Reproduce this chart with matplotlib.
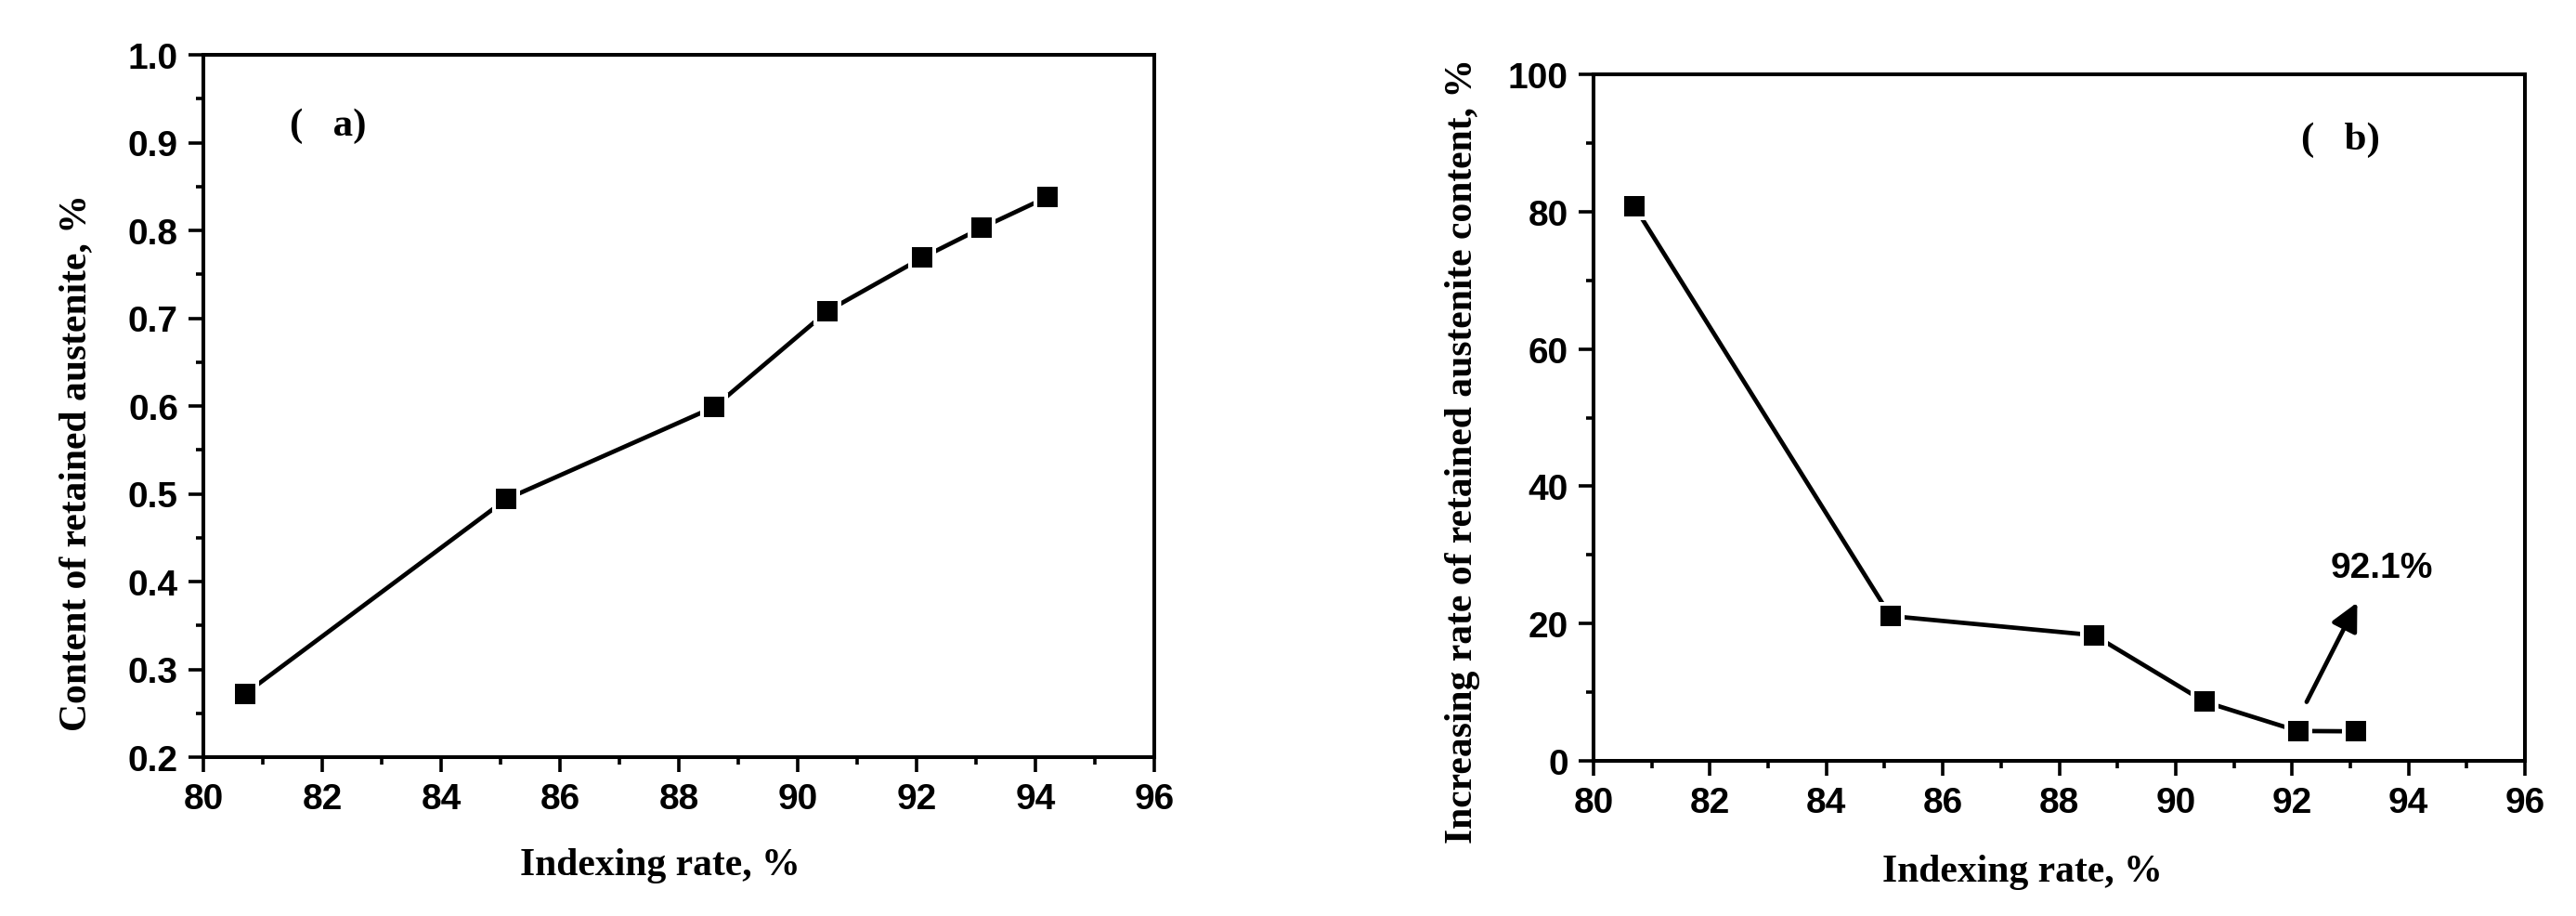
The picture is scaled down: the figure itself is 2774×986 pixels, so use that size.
import matplotlib
matplotlib.use("Agg")
import matplotlib.pyplot as plt
from matplotlib.ticker import MultipleLocator

# data
index_rate_a = [80.7, 85.1, 88.6, 90.5, 92.1, 93.1, 94.2]
content_a = [0.272, 0.494, 0.599, 0.708, 0.769, 0.803, 0.838]

index_rate_b = [80.7, 85.1, 88.6, 90.5, 92.1, 93.1]
increase_b = [80.8, 21.1, 18.3, 8.6, 4.35, 4.3]

xticks = [80, 82, 84, 86, 88, 90, 92, 94, 96]

serif = 'Liberation Serif'
sans = 'Liberation Sans'

fig = plt.figure(figsize=(27.74, 9.87), dpi=100)
ax1 = fig.add_axes([219/2774, 1-816/987, 1024/2774, 756/987])
ax2 = fig.add_axes([1716/2774, 1-820/987, 1003/2774, 739/987])


def style(ax):
    for s in ax.spines.values():
        s.set_linewidth(2.9)
    ax.tick_params(which='major', direction='out', length=11.5, width=2.6,
                   top=False, right=False, pad=8)
    ax.tick_params(which='minor', direction='out', length=5.8, width=2.6,
                   top=False, right=False)
    for lab in ax.get_xticklabels() + ax.get_yticklabels():
        lab.set_fontfamily(sans)
        lab.set_fontweight('bold')
        lab.set_fontsize(28)


def draw(ax, x, y):
    ax.plot(x, y, color='black', lw=3.4, solid_capstyle='round', zorder=2)
    # white edge gives the small gap between line and marker
    ax.plot(x, y, ls='none', marker='s', ms=18.7, mfc='black',
            mec='white', mew=2.9, zorder=3)


# (a)
draw(ax1, index_rate_a, content_a)
ax1.set_xlim(80, 96)
ax1.set_ylim(0.2, 1.0)
ax1.set_xticks(xticks)
ax1.xaxis.set_minor_locator(MultipleLocator(1))
ax1.yaxis.set_major_locator(MultipleLocator(0.1))
ax1.yaxis.set_minor_locator(MultipleLocator(0.05))
ax1.yaxis.set_major_formatter(matplotlib.ticker.FormatStrFormatter('%.1f'))
style(ax1)
ax1.set_xlabel('Indexing rate, %', family=serif, weight='bold', fontsize=30, va='center')
ax1.xaxis.set_label_coords(0.48, -0.153)
ax1.set_ylabel('Content of retained austenite, %', family=serif, weight='bold',
               fontsize=30, va='center')
ax1.yaxis.set_label_coords(-0.134, 0.42)
ax1.text(81.45, 0.92, '(   a)', family=serif, weight='bold', fontsize=31,
         ha='left', va='center')

# (b)
draw(ax2, index_rate_b, increase_b)
ax2.set_xlim(80, 96)
ax2.set_ylim(0, 100)
ax2.set_xticks(xticks)
ax2.xaxis.set_minor_locator(MultipleLocator(1))
ax2.yaxis.set_major_locator(MultipleLocator(20))
ax2.yaxis.set_minor_locator(MultipleLocator(10))
style(ax2)
ax2.set_xlabel('Indexing rate, %', family=serif, weight='bold', fontsize=30, va='center')
ax2.xaxis.set_label_coords(0.46, -0.161)
ax2.set_ylabel('Increasing rate of retained austenite content, %', family=serif,
               weight='bold', fontsize=30, va='center')
ax2.yaxis.set_label_coords(-0.141, 0.453)
ax2.text(92.15, 90.5, '(   b)', family=serif, weight='bold', fontsize=31,
         ha='left', va='center')
ax2.annotate('', xy=(93.14, 23.4), xytext=(92.23, 8.25),
             arrowprops=dict(arrowstyle='-|>', color='black', lw=3.4,
                             mutation_scale=45))
ax2.text(93.54, 28.2, '92.1%', family=sans, weight='bold', fontsize=28,
         ha='center', va='center')

fig.savefig('out.png', dpi=100)
